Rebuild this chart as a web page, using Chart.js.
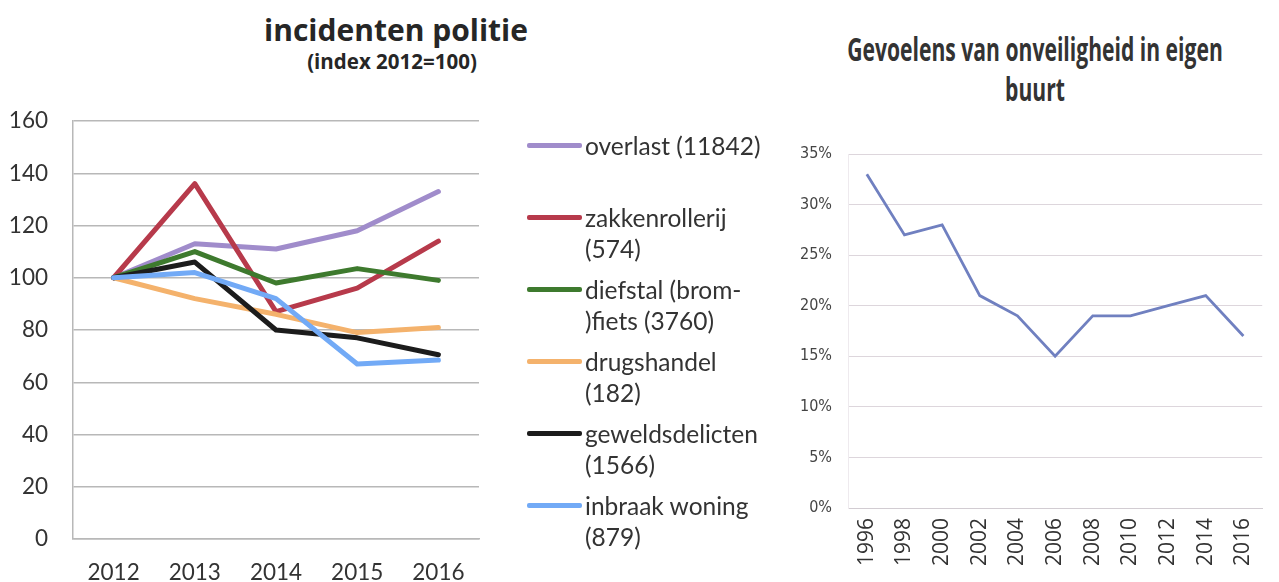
<!DOCTYPE html>
<html>
<head>
<meta charset="utf-8">
<script src="https://cdn.jsdelivr.net/npm/chart.js@4.4.0/dist/chart.umd.min.js"></script>
<style>
  body { margin: 0; background: #fff; width: 1279px; height: 582px; overflow: hidden; position: relative; }
  canvas { position: absolute; top: 0; }
  #c1 { left: 0; }
  #c2 { left: 790px; }
  .title { position: absolute; text-align: center; color: #262626; white-space: nowrap; }
  #t1 { left: 0; width: 792px; top: 15px; font: bold 30px "Open Sans", sans-serif; line-height: 30px; }
  #t1s { left: 0; width: 784px; top: 50px; font: bold 20.5px "Open Sans", sans-serif; line-height: 22px; }
  #t2 { left: 635px; width: 800px; top: 29px; font: bold 33px "Open Sans", sans-serif; line-height: 40px; color: #333;
        transform: scaleX(0.64); transform-origin: 400px 0; }
  .item { position: absolute; left: 527px; font: 24.5px Lato, sans-serif; color: #333; line-height: 31px; }
  .item span.swatch { position: absolute; left: 0; top: 13px; width: 55px; height: 5px; border-radius: 2px; }
  .item div { margin-left: 58px; white-space: nowrap; }
</style>
</head>
<body>
<div class="title" id="t1">incidenten politie</div>
<div class="title" id="t1s">(index 2012=100)</div>
<div class="title" id="t2">Gevoelens van onveiligheid in eigen<br>buurt</div>
<canvas id="c1" width="790" height="582"></canvas>
<canvas id="c2" width="489" height="582"></canvas>
<div id="legend"></div>
<script>
// left chart: police incidents, index 2012 = 100
const years = ["2012", "2013", "2014", "2015", "2016"];
const overlast = [100, 113, 111, 118, 133];
const zakkenrollerij = [100, 136, 87, 96, 114];
const diefstal = [100, 110, 98, 103.5, 99];
const drugshandel = [100, 92, 86, 79, 81];
const geweld = [100, 106, 80, 77, 70.5];
const inbraak = [100, 102, 92, 67, 68.5];
const legendLabels = [
  ["overlast (11842)"],
  ["zakkenrollerij", "(574)"],
  ["diefstal (brom-", ")fiets (3760)"],
  ["drugshandel", "(182)"],
  ["geweldsdelicten", "(1566)"],
  ["inbraak woning", "(879)"]
];
const colors = ["#a08ccb", "#b73a4b", "#3e7a2e", "#f4b26c", "#1c1c1c", "#72aaf6"];

// right chart: feelings of insecurity
const surveyYears = ["1996", "1998", "2000", "2002", "2004", "2006", "2008", "2010", "2012", "2014", "2016"];
const onveilig = [33, 27, 28, 21, 19, 15, 19, 19, 20, 21, 17];

const series = [overlast, zakkenrollerij, diefstal, drugshandel, geweld, inbraak];

const datasets = series.map((d, i) => ({
  label: legendLabels[i].join(" "),
  data: d,
  borderColor: colors[i],
  backgroundColor: colors[i],
  borderWidth: 5,
  pointRadius: 0,
  tension: 0,
  borderJoinStyle: "round",
  borderCapStyle: "round",
  order: series.length - i
}));

new Chart(document.getElementById("c1"), {
  type: "line",
  data: { labels: years, datasets: datasets },
  options: {
    responsive: false,
    animation: false,
    layout: { padding: { top: 121, right: 311, left: 0, bottom: 0 } },
    plugins: { legend: { display: false }, tooltip: { enabled: false } },
    scales: {
      x: {
        offset: true,
        grid: { display: false, drawTicks: false },
        border: { display: true, color: "#b8b8b8", width: 1.5 },
        ticks: { color: "#333", font: { family: "Lato", size: 22.5 }, padding: 20, maxRotation: 0 },
        afterFit: s => { s.height = 43; }
      },
      y: {
        min: 0, max: 160,
        ticks: { stepSize: 20, color: "#333", font: { family: "Lato", size: 22.5 }, padding: 25 },
        grid: { color: "#b8b8b8", lineWidth: 1.5, drawTicks: false },
        border: { display: true, color: "#b8b8b8", width: 1.5 },
        afterFit: s => { s.width = 73; }
      }
    }
  }
});

// html legend built from the series labels
const legend = document.getElementById("legend");
legendLabels.forEach((lines, i) => {
  const el = document.createElement("div");
  el.className = "item";
  el.style.top = (130 + i * 72) + "px";
  el.innerHTML = '<span class="swatch" style="background:' + colors[i] + '"></span><div>' + lines.join("<br>") + "</div>";
  legend.appendChild(el);
});

new Chart(document.getElementById("c2"), {
  type: "line",
  data: {
    labels: surveyYears,
    datasets: [{
      data: onveilig,
      borderColor: "#7080c0",
      borderWidth: 2.8,
      pointRadius: 0,
      tension: 0
    }]
  },
  options: {
    responsive: false,
    animation: false,
    layout: { padding: { top: 154, right: 9, left: 0, bottom: 0 } },
    plugins: { legend: { display: false }, tooltip: { enabled: false } },
    scales: {
      x: {
        offset: true,
        grid: { display: false, drawTicks: false },
        border: { display: true, color: "#d2ccd2", width: 1 },
        ticks: {
          color: "#333", font: { family: "'Open Sans', sans-serif", size: 21 },
          padding: 10, minRotation: 90, maxRotation: 90
        },
        afterFit: s => { s.height = 74; }
      },
      y: {
        min: 0, max: 35,
        ticks: {
          stepSize: 5, color: "#444", font: { family: "'DejaVu Sans Condensed', sans-serif", size: 16 }, padding: 16,
          callback: v => v + "%"
        },
        grid: { color: "#ddd6dc", lineWidth: 1, drawTicks: false },
        border: { display: true, color: "#eeeaee", width: 1 },
        afterFit: s => { s.width = 58; }
      }
    }
  }
});
</script>
</body>
</html>
